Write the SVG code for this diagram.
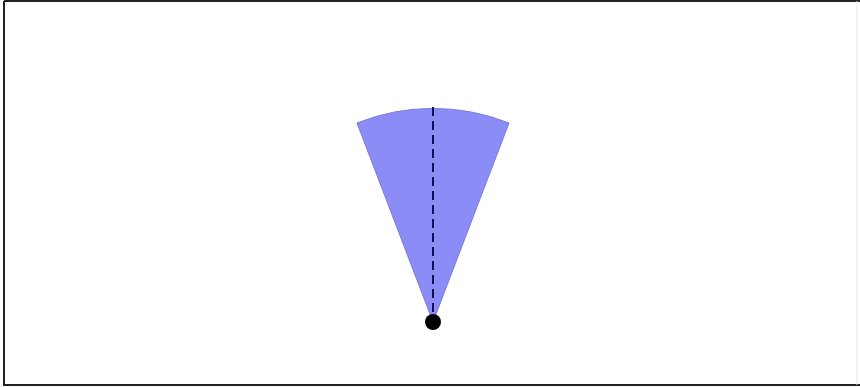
<svg xmlns="http://www.w3.org/2000/svg" width="860" height="387" viewBox="0 0 860 387">
<style>
.frame{stroke:#222;stroke-width:2;fill:none}
.sector{fill:#8c8cf7;stroke:#7a7ad8;stroke-width:1}
.axis{stroke:#10105a;stroke-width:2;stroke-dasharray:9 5;fill:none}
</style>
<rect x="0" y="0" width="860" height="387" fill="#ffffff"/>
<line class="frame" x1="4" y1="1" x2="860" y2="1"/>
<line class="frame" x1="4" y1="1" x2="4" y2="386"/>
<line class="frame" x1="4" y1="385" x2="860" y2="385"/>
<line x1="857" y1="1" x2="857" y2="385" stroke="#e6e6e6" stroke-width="1"/>
<g id="sector">
<path class="sector" d="M433,322 L357,123 A205,205 0 0 1 509,123 Z"/>
</g>
<g id="connectors">
<line class="axis" x1="433" y1="107" x2="433" y2="318"/>
</g>
<g id="origin">
<circle cx="433" cy="322" r="8" fill="#000"/>
</g>
</svg>
